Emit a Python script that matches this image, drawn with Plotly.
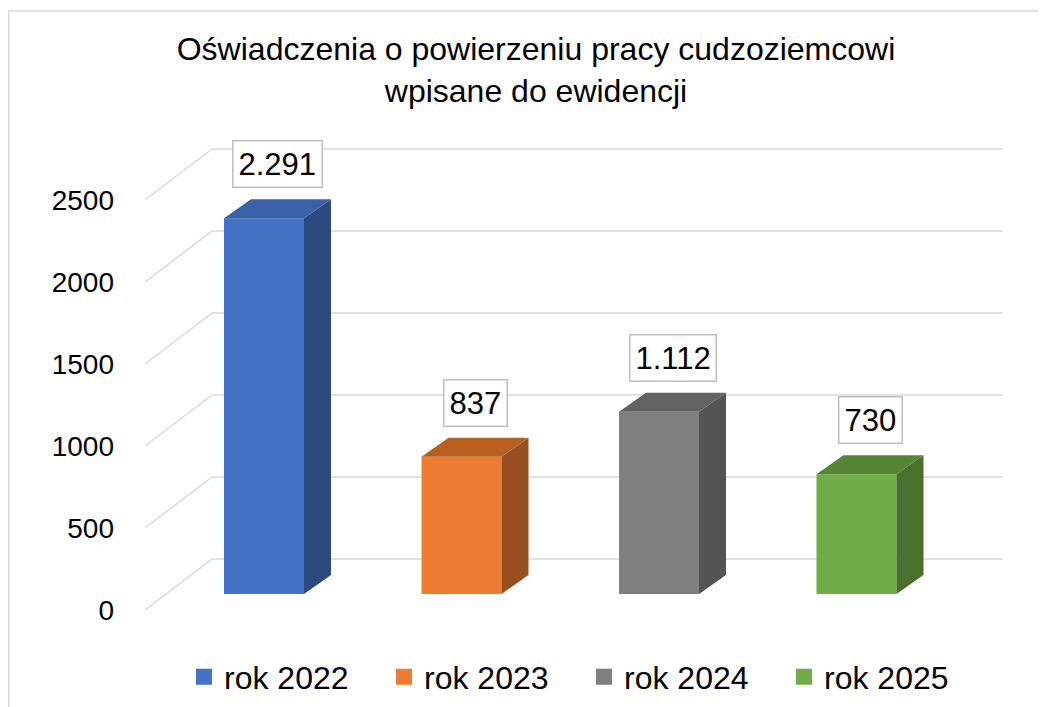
import plotly.graph_objects as go

# ---- data ----
categories = ["rok 2022", "rok 2023", "rok 2024", "rok 2025"]
values = [2291, 837, 1112, 730]
front_colors = ["#4472C4", "#ED7D31", "#7F7F7F", "#70AD47"]
top_colors = ["#3A60A8", "#B8601F", "#636363", "#568536"]
side_colors = ["#2C4A80", "#985020", "#545454", "#49702C"]
ytick_values = [0, 500, 1000, 1500, 2000, 2500]

# ---- layout geometry (pixels, page coordinates; page body adds 8px margin) ----
OFF = 8
W, H = 1046, 707
ML, MR, MT, MB = 140 - OFF, 36 + OFF, 130 - OFF, 90 + OFF
plot_w = W - ML - MR
plot_h = H - MT - MB
px_per_cat = 197.5
px_per_unit = 0.164
first_center_px = 264 - OFF
zero_px = 610 - OFF

xmin = -(first_center_px - ML) / px_per_cat
xmax = xmin + plot_w / px_per_cat
ymin = -((H - MB) - zero_px) / px_per_unit
ymax = (zero_px - MT) / px_per_unit

def ux(px):  # pixel distance -> x units
    return px / px_per_cat

def uy(px):  # pixel distance -> y units
    return px / px_per_unit

WALL_DX, WALL_DY = ux(67), uy(51)      # depth of floor (front line -> back wall)
FRONT_DY = uy(16)                      # bar front plane offset
BAR_DX, BAR_DY = ux(27), uy(19)        # bar depth
BAR_W = ux(80)
FRONT_LEFT = ux(145 - 264)
BACK_LEFT = FRONT_LEFT + WALL_DX
BACK_RIGHT = ux(1003 - 264)

fig = go.Figure()

grid = dict(color="#D9D9D9", width=1.5)
shapes = []
for v in ytick_values:
    shapes.append(dict(type="line", xref="x", yref="y", layer="below",
                       x0=FRONT_LEFT, y0=v, x1=BACK_LEFT, y1=v + WALL_DY, line=grid))
    shapes.append(dict(type="line", xref="x", yref="y", layer="below",
                       x0=BACK_LEFT, y0=v + WALL_DY, x1=BACK_RIGHT, y1=v + WALL_DY, line=grid))

# chart border
shapes.append(dict(type="rect", xref="paper", yref="paper",
                   x0=(8 - OFF - ML + 0.75) / plot_w, x1=(W + 20 - ML) / plot_w,
                   y0=-(MB + 20) / plot_h, y1=((H - MB) - (11 - OFF)) / plot_h,
                   line=dict(color="#D9D9D9", width=1.5), fillcolor="rgba(0,0,0,0)",
                   layer="below"))

annotations = []
for i, (cat, v) in enumerate(zip(categories, values)):
    base = FRONT_DY
    fig.add_trace(go.Bar(x=[i], y=[v], base=[base], width=BAR_W, name=cat,
                         legendgroup=cat, showlegend=False,
                         marker=dict(color=front_colors[i], line=dict(width=0)),
                         hovertemplate=f"{cat}: %{{y}}<extra></extra>"))
    xl, xr = i - BAR_W / 2, i + BAR_W / 2
    ytop = base + v
    fig.add_trace(go.Scatter(
        x=[xr, xr + BAR_DX, xr + BAR_DX, xr, xr],
        y=[base, base + BAR_DY, ytop + BAR_DY, ytop, base],
        fill="toself", fillcolor=side_colors[i], mode="lines", legendgroup=cat,
        line=dict(width=0, color=side_colors[i]), showlegend=False, hoverinfo="skip"))
    fig.add_trace(go.Scatter(
        x=[xl, xr, xr + BAR_DX, xl + BAR_DX, xl],
        y=[ytop, ytop, ytop + BAR_DY, ytop + BAR_DY, ytop],
        fill="toself", fillcolor=top_colors[i], mode="lines", legendgroup=cat,
        line=dict(width=0, color=top_colors[i]), showlegend=False, hoverinfo="skip"))
    # legend entry (square key)
    fig.add_trace(go.Scatter(
        x=[None], y=[None], mode="markers", name=cat, legendgroup=cat,
        marker=dict(symbol="square", size=16, color=front_colors[i], line=dict(width=0)),
        hoverinfo="skip"))
    label = f"{v:,}".replace(",", ".")
    annotations.append(dict(x=i + BAR_DX / 2, y=ytop + BAR_DY + uy(11), xref="x", yref="y",
                            text=label, showarrow=False, yanchor="bottom", xanchor="center",
                            font=dict(family="Liberation Sans, Arial", size=31, color="#000000"),
                            bgcolor="white", bordercolor="#BFBFBF", borderwidth=1.5,
                            borderpad=5))

fig.update_layout(
    width=W, height=H,
    margin=dict(l=ML, r=MR, t=MT, b=MB, autoexpand=False),
    paper_bgcolor="white", plot_bgcolor="white",
    barmode="overlay",
    separators=",.",
    title=dict(text="Oświadczenia o powierzeniu pracy cudzoziemcowi<br>wpisane do ewidencji",
               x=(536 - OFF) / W, xref="container", xanchor="center",
               y=1 - 52 / H, yref="container", yanchor="top",
               font=dict(family="Liberation Sans, Arial", size=32, color="#000000")),
    xaxis=dict(range=[xmin, xmax], showgrid=False, zeroline=False, showticklabels=False,
               showline=False, fixedrange=True),
    yaxis=dict(range=[ymin, ymax], showgrid=False, zeroline=False, showline=False,
               tickvals=ytick_values, ticktext=[str(t) for t in ytick_values],
               ticks="", ticklabelstandoff=25,
               tickfont=dict(family="Liberation Sans, Arial", size=28, color="#000000"),
               fixedrange=True),
    legend=dict(orientation="h", x=(584 - OFF - ML) / plot_w, xanchor="center",
                y=-(677 - OFF - (H - MB)) / plot_h,
                yanchor="middle", entrywidth=155, entrywidthmode="pixels",
                font=dict(family="Liberation Sans, Arial", size=32, color="#000000"),
                traceorder="normal", itemsizing="trace"),
    shapes=shapes,
    annotations=annotations,
    showlegend=True,
)

fig.write_html("out.html")
